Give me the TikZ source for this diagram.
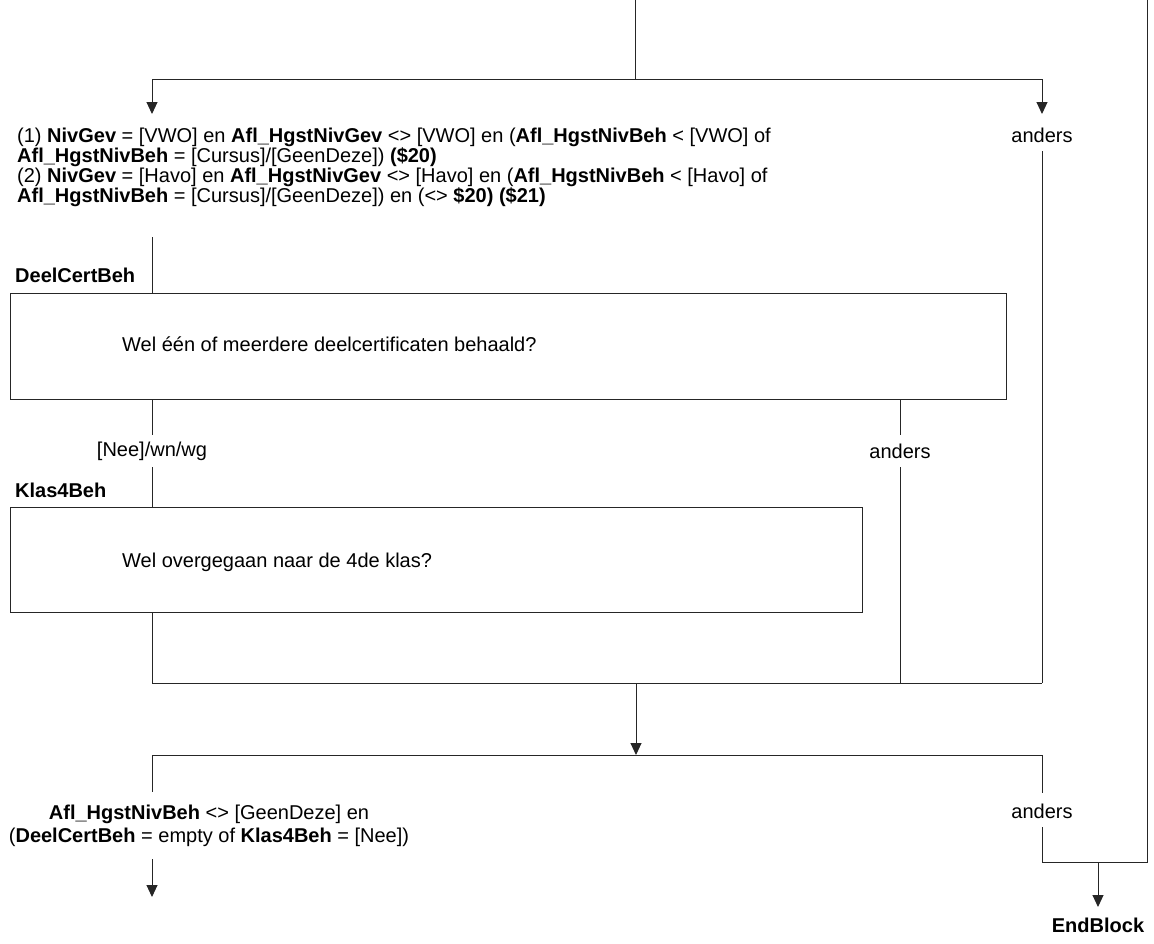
\documentclass[tikz,border=0pt]{standalone}
\usepackage{fontspec}
\setmainfont{Liberation Sans}
\usetikzlibrary{arrows.meta}
\begin{document}
\begin{tikzpicture}[x=1pt,y=-1pt,
  line/.style={draw=black!85,line width=1pt},
  arr/.style={line,-{Triangle[length=12pt,width=11pt]}},
  txt/.style={inner sep=0pt,font=\fontsize{20}{20}\selectfont},
  btxt/.style={txt,font=\fontsize{20}{20}\selectfont\bfseries},
  box/.style={line,fill=white}]
\useasboundingbox (0,0) rectangle (1154,943);
% top
\coordinate (top) at (635,0);
\coordinate (s1) at (635,79);
\coordinate (bl1) at (152,79);
\coordinate (br1) at (1042,79);
\coordinate (al1) at (152,114);
\coordinate (ar1) at (1042,114);
\draw[line] (top) -- (s1);
\draw[line] (bl1) -- (br1);
\draw[arr] (bl1) -- (al1);
\draw[arr] (br1) -- (ar1);
\node[txt,anchor=base west,align=left] (cond1) at (17,202)
 {(1) \textbf{NivGev} = [VWO] en \textbf{Afl\_HgstNivGev} <> [VWO] en (\textbf{Afl\_HgstNivBeh} < [VWO] of\\
 \textbf{Afl\_HgstNivBeh} = [Cursus]/[GeenDeze]) \textbf{(\$20)}\\
 (2) \textbf{NivGev} = [Havo] en \textbf{Afl\_HgstNivGev} <> [Havo] en (\textbf{Afl\_HgstNivBeh} < [Havo] of\\
 \textbf{Afl\_HgstNivBeh} = [Cursus]/[GeenDeze]) en (<> \textbf{\$20)} \textbf{(\$21)}};
\node[txt] (anders1) at (1042,135) {anders};
% right bypass
\coordinate (r1a) at (1042,151);
\coordinate (r1b) at (1042,683);
\draw[line] (r1a) -- (r1b);
% DeelCertBeh
\coordinate (c1a) at (152,237);
\node[box,minimum width=996pt,minimum height=106pt,anchor=north west,inner sep=0pt] (box1) at (10,293) {};
\draw[line] (c1a) -- (c1a |- box1.north);
\node[btxt,anchor=base west] (lab1) at (15,282) {DeelCertBeh};
\node[txt,anchor=base west] (q1) at (122,351) {Wel één of meerdere deelcertificaten behaald?};
% Nee branch
\node[txt] (nee) at (152,451) {[Nee]/wn/wg};
\coordinate (n1a) at (152,435);
\coordinate (n1b) at (152,467);
\draw[line] (box1.south -| n1a) -- (n1a);
\node[box,minimum width=852pt,minimum height=105pt,anchor=north west,inner sep=0pt] (box2) at (10,507) {};
\draw[line] (n1b) -- (n1b |- box2.north);
\node[btxt,anchor=base west] (lab2) at (15,497) {Klas4Beh};
\node[txt,anchor=base west] (q2) at (122,567) {Wel overgegaan naar de 4de klas?};
% anders 2
\node[txt] (anders2) at (900,451) {anders};
\coordinate (a2a) at (900,435);
\coordinate (a2b) at (900,467);
\coordinate (a2c) at (900,683);
\draw[line] (box1.south -| a2a) -- (a2a);
\draw[line] (a2b) -- (a2c);
% join
\coordinate (j1) at (152,683);
\draw[line] (box2.south -| j1) -- (j1) -- (r1b);
\coordinate (j2) at (636,683);
\coordinate (j3) at (636,755);
\draw[arr] (j2) -- (j3);
% second branch
\coordinate (b2l) at (152,755);
\coordinate (b2r) at (1042,755);
\draw[line] (b2l) -- (b2r);
\coordinate (b2la) at (152,792);
\draw[line] (b2l) -- (b2la);
\node[txt,align=center,font=\fontsize{20}{23}\selectfont] (cond2) at (209,826)
 {\textbf{Afl\_HgstNivBeh} <> [GeenDeze] en\\(\textbf{DeelCertBeh} = empty of \textbf{Klas4Beh} = [Nee])};
\coordinate (o1a) at (152,859);
\coordinate (o1b) at (152,897);
\draw[arr] (o1a) -- (o1b);
\node[txt] (anders3) at (1042,811) {anders};
\coordinate (b2ra) at (1042,793);
\coordinate (b2rb) at (1042,827);
\coordinate (b2rc) at (1042,862);
\coordinate (far1) at (1147,862);
\coordinate (far0) at (1147,0);
\draw[line] (b2r) -- (b2ra);
\draw[line] (b2rb) -- (b2rc) -- (far1) -- (far0);
\coordinate (e1) at (1098,862);
\coordinate (e2) at (1098,907);
\draw[arr] (e1) -- (e2);
\node[btxt] (end) at (1098,925) {EndBlock};
\end{tikzpicture}
\end{document}
